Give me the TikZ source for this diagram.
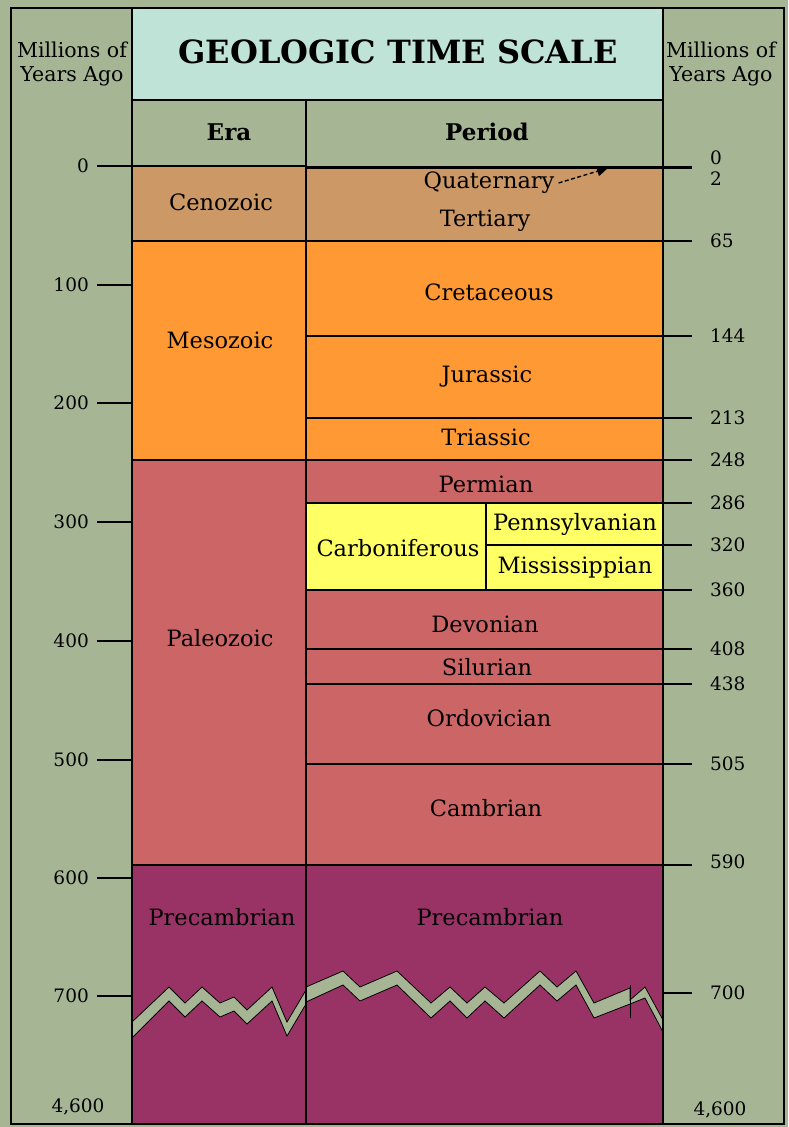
\documentclass[tikz,border=0pt]{standalone}
\usepackage{fontspec}
\setmainfont{DejaVu Serif}
\usetikzlibrary{arrows.meta}
\definecolor{sage}{HTML}{A6B594}
\definecolor{ceno}{HTML}{CC9966}
\definecolor{meso}{HTML}{FF9933}
\definecolor{paleo}{HTML}{CC6666}
\definecolor{precam}{HTML}{993366}
\definecolor{carb}{HTML}{FFFF66}
\definecolor{titlebg}{HTML}{BFE3D6}
\begin{document}
\begin{tikzpicture}[x=1pt,y=-1pt,
  lbl/.style={font=\fontsize{22.5}{24}\selectfont, inner sep=0pt},
  hdr/.style={font=\bfseries\fontsize{23}{24}\selectfont, inner sep=0pt},
  num/.style={font=\fontsize{18.5}{20}\selectfont, inner sep=0pt},
  side/.style={font=\fontsize{20.5}{24}\selectfont, align=center, inner sep=0pt},
  bd/.style={line width=1.5pt},
  frame/.style={line width=2pt},
  band/.style={fill=sage, draw=black, line width=0.8pt, line join=miter}]
\useasboundingbox (0,0) rectangle (788,1127);
\fill[sage] (0,0) rectangle (788,1127);
% regions
\fill[titlebg] (132,8) rectangle (663,100);
\fill[ceno] (132,166) rectangle (663,241);
\fill[meso] (132,241) rectangle (663,460);
\fill[paleo] (132,460) rectangle (663,865);
\fill[carb] (306,503) rectangle (663,590);
\fill[precam] (132,865) rectangle (663,1124);
% zigzag break bands
\filldraw[band] (132,1022) -- (169,987) -- (185,1003) -- (202,987) -- (220,1003) -- (234,997) -- (247,1010) -- (272,987) -- (287,1022) -- (306,990)
  -- (306,1004) -- (287,1036) -- (272,1001) -- (247,1024) -- (234,1011) -- (220,1017) -- (202,1001) -- (185,1017) -- (169,1001) -- (132,1038) -- cycle;
\filldraw[band] (306,987) -- (343,971) -- (360,987) -- (397,971) -- (431,1003) -- (450,987) -- (467,1003) -- (485,987) -- (504,1003) -- (540,971) -- (557,987) -- (576,971) -- (594,1003) -- (630,988) -- (630,1000) -- (645,987) -- (663,1020)
  -- (663,1032) -- (645,998) -- (630,1004) -- (594,1018) -- (576,985) -- (557,1001) -- (540,985) -- (504,1018) -- (485,1001) -- (467,1018) -- (450,1001) -- (431,1018) -- (397,985) -- (360,1001) -- (343,985) -- (306,1002) -- cycle;
\draw[line width=0.8pt] (630,985) -- (630,1018);
% horizontal boundaries
\draw[bd] (97,166) -- (306,166);
\draw[line width=3pt] (306,167) -- (692,167);
\foreach \yy in {241,460,865} \draw[bd] (132,\yy) -- (692,\yy);
\foreach \yy in {336,418,503,590,649,684,764} \draw[bd] (306,\yy) -- (692,\yy);
\draw[bd] (486,545) -- (692,545);
\draw[bd] (486,503) -- (486,590);
\draw[bd] (663,993) -- (692,993);
\foreach \yy in {285,403,522,641,760,878,996} \draw[bd] (97,\yy) -- (132,\yy);
% verticals and frame
\draw[bd] (132,100) -- (663,100);
\draw[bd] (306,100) -- (306,1124);
\draw[frame] (132,8) -- (132,1124);
\draw[frame] (663,8) -- (663,1124);
\draw[frame] (11,8) rectangle (784,1124);
% title and headers
\node[font=\bfseries\fontsize{32}{34}\selectfont, inner sep=0pt] (title) at (398,52) {GEOLOGIC TIME SCALE};
\node[hdr] (era) at (229,132) {Era};
\node[hdr] (period) at (487,132) {Period};
\node[side] (lhead) at (72,64) {Millions of\\Years Ago};
\node[side] (rhead) at (721,64) {Millions of\\Years Ago};
% era labels
\node[lbl] (ceno) at (221,202) {Cenozoic};
\node[lbl] (meso) at (220,340) {Mesozoic};
\node[lbl] (paleo) at (220,638) {Paleozoic};
\node[lbl] (precamE) at (222,917) {Precambrian};
% period labels
\node[lbl] (quat) at (489,183) {Quaternary};
\node[lbl] (tert) at (485,221) {Tertiary};
\node[lbl] (cret) at (489,292) {Cretaceous};
\node[lbl] (jur) at (487,377) {Jurassic};
\node[lbl] (tri) at (486,437) {Triassic};
\node[lbl] (perm) at (486,484) {Permian};
\node[lbl] (carbn) at (398,548) {Carboniferous};
\node[lbl] (penn) at (575,524) {Pennsylvanian};
\node[lbl] (miss) at (575,568) {Mississippian};
\node[lbl] (dev) at (485,624) {Devonian};
\node[lbl] (sil) at (487,667) {Silurian};
\node[lbl] (ord) at (489,718) {Ordovician};
\node[lbl] (camb) at (486,808) {Cambrian};
\node[lbl] (precamP) at (490,917) {Precambrian};
\coordinate (qtip) at (608,168);
\draw[line width=1.4pt, dash pattern=on 4pt off 2.5pt, -{Triangle[length=11pt,width=10pt]}] (quat.east) ++(4,0) -- (qtip);
% left scale
\foreach \v/\yy in {0/166,100/285,200/403,300/522,400/641,500/760,600/878,700/996}
  \node[num, anchor=east] (L\v) at (89,\yy) {\v};
\node[num] (L4600) at (78,1107) {4,600};
% right scale
\foreach \v/\yy in {0/158,2/179,65/241,144/336,213/418,248/460,286/503,320/545,360/590,408/649,438/684,505/764,590/862,700/993}
  \node[num, anchor=west] (R\v) at (710,\yy) {\v};
\node[num] (R4600) at (720,1110) {4,600};
\end{tikzpicture}
\end{document}
